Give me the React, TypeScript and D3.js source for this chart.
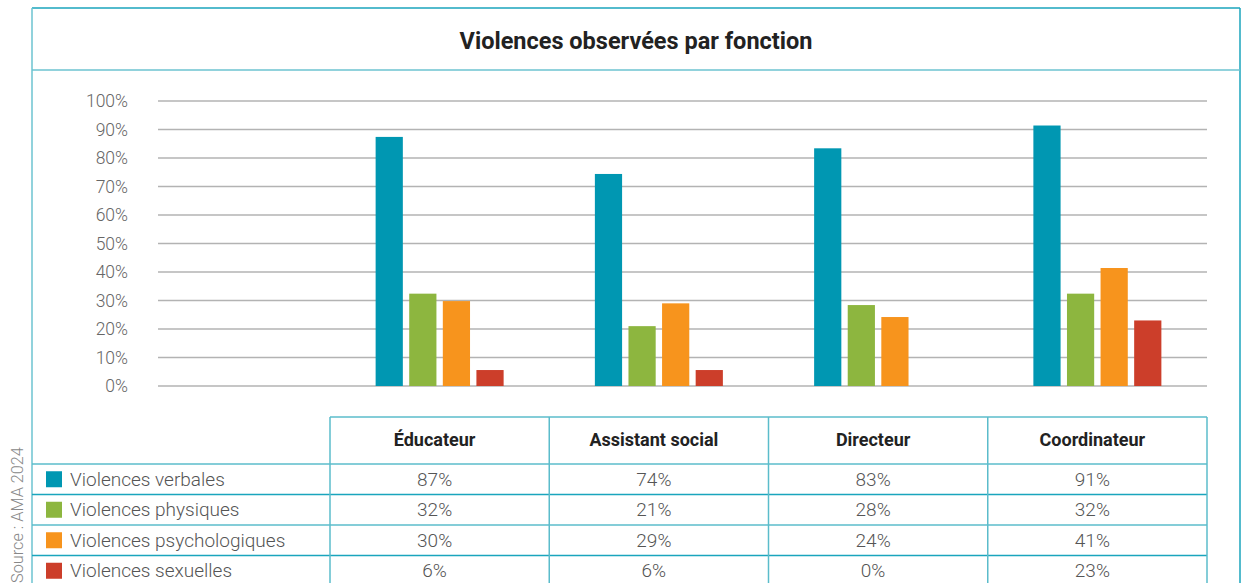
import React from "react";
import * as d3 from "d3";

const title = "Violences observées par fonction";
const categories = ["Éducateur", "Assistant social", "Directeur", "Coordinateur"];
const seriesNames = ["Violences verbales", "Violences physiques", "Violences psychologiques", "Violences sexuelles"];
const seriesColors = ["#0097b2", "#8db63f", "#f7941d", "#cc3e2a"];
// bar values (percent) per series, per category
const verbales = [87.4, 74.4, 83.4, 91.4];
const physiques = [32.4, 21.0, 28.4, 32.4];
const psychologiques = [29.8, 29.0, 24.2, 41.4];
const sexuelles = [5.6, 5.6, 0, 23.0];
// table labels
const verbalesLabels = ["87%", "74%", "83%", "91%"];
const physiquesLabels = ["32%", "21%", "28%", "32%"];
const psychologiquesLabels = ["30%", "29%", "24%", "41%"];
const sexuellesLabels = ["6%", "6%", "0%", "23%"];
const yTicks = [0, 10, 20, 30, 40, 50, 60, 70, 80, 90, 100];
const source = "Source : AMA 2024";

const seriesValues = [verbales, physiques, psychologiques, sexuelles];
const seriesLabels = [verbalesLabels, physiquesLabels, psychologiquesLabels, sexuellesLabels];

export default function App() {
  const W = 1249, H = 583;
  const boxL = 32, boxR = 1240, boxT = 8, titleB = 70;
  const gridL = 158, gridR = 1207;
  const y = d3.scaleLinear().domain([0, 100]).range([386, 101]);
  const x = d3.scaleBand<string>().domain(categories).range([330, 1207]).padding(0);
  const inner = d3.scaleBand<string>().domain(seriesNames).range([x.bandwidth() / 2 - 64, x.bandwidth() / 2 + 64]).paddingInner(0.19);
  const rowY = [417, 464, 494.5, 525, 555.5, 586];
  const lineColor = "#5bbccb";
  const font = "Roboto, 'Noto Sans', sans-serif";
  const textOff = -5;

  return (
    <svg width={W} height={H} style={{ position: "absolute", left: 0, top: 0, background: "#fff" }} fontFamily={font}>
      {/* outer box */}
      <line x1={boxL} x2={boxR} y1={boxT} y2={boxT} stroke="#1aa5bd" strokeWidth={1.5} />
      <line x1={boxL} x2={boxL} y1={boxT} y2={H} stroke="#6cc3d1" strokeWidth={1.5} />
      <line x1={boxR} x2={boxR} y1={boxT} y2={H} stroke="#1aa5bd" strokeWidth={1.5} />
      <line x1={boxL} x2={boxR} y1={titleB} y2={titleB} stroke="#6cc3d1" strokeWidth={1.5} />
      <text x={636} y={49} textAnchor="middle" fontSize={23.5} fontWeight={700} fill="#222">{title}</text>

      {/* grid */}
      {yTicks.map((t) => (
        <g key={t}>
          <line x1={gridL} x2={gridR} y1={y(t)} y2={y(t)} stroke="#b3b3b3" strokeWidth={1.5} />
          <text x={128} y={y(t) + 6} textAnchor="end" fontSize={17.5} fill="#666" fontWeight={300}>{t}%</text>
        </g>
      ))}

      {/* bars */}
      {categories.map((c, ci) => (
        <g key={c} transform={`translate(${x(c)},0)`}>
          {seriesNames.map((s, si) => {
            const v = seriesValues[si][ci];
            if (v <= 0) return null;
            return (
              <rect key={s} x={inner(s)} width={inner.bandwidth()} y={y(v)} height={y(0) - y(v)} fill={seriesColors[si]} />
            );
          })}
        </g>
      ))}

      {/* table */}
      <line x1={330} x2={1207} y1={rowY[0]} y2={rowY[0]} stroke={lineColor} strokeWidth={1.5} />
      {rowY.slice(1).map((ry, i) => (
        <line key={i} x1={boxL} x2={1207} y1={ry} y2={ry} stroke={i % 2 === 1 ? "#1aa5bd" : lineColor} strokeWidth={1.5} />
      ))}
      {[...categories.map((c) => x(c) as number), 1207].map((cx, i) => (
        <line key={i} x1={cx} x2={cx} y1={rowY[0]} y2={H} stroke={lineColor} strokeWidth={1.5} />
      ))}
      {categories.map((c) => (
        <text key={c} x={(x(c) as number) + x.bandwidth() / 2 + textOff} y={446} textAnchor="middle" fontSize={18} fontWeight={700} fill="#222">{c}</text>
      ))}
      {seriesNames.map((s, si) => {
        const top = rowY[si + 1], bot = rowY[si + 2];
        const mid = (top + bot) / 2;
        return (
          <g key={s}>
            <rect x={46} y={mid - 8} width={16} height={16} fill={seriesColors[si]} />
            <text x={70} y={mid + 6.5} fontSize={19} fill="#555" fontWeight={300}>{s}</text>
            {categories.map((c, ci) => (
              <text key={c} x={(x(c) as number) + x.bandwidth() / 2 + textOff} y={mid + 6.5} textAnchor="middle" fontSize={19} fill="#555" fontWeight={300}>{seriesLabels[si][ci]}</text>
            ))}
          </g>
        );
      })}

      {/* source */}
      <text transform={`translate(23,${H}) rotate(-90)`} fontSize={16.3} fill="#888" fontWeight={300}>{source}</text>
    </svg>
  );
}
